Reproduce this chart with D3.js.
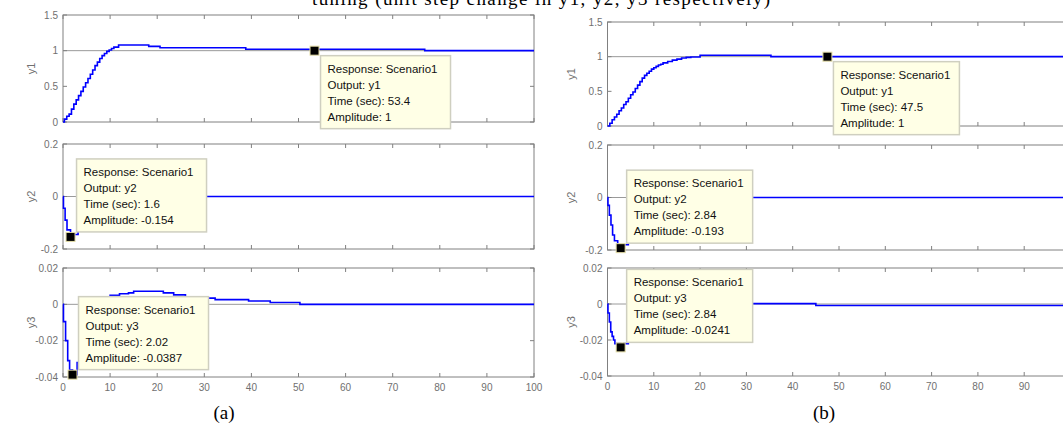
<!DOCTYPE html>
<html lang="en">
<head>
<meta charset="UTF-8">
<title>Step responses</title>
<script src="https://d3js.org/d3.v7.min.js"></script>
<style>
  body { margin: 0; background: #fff; }
  svg { display: block; }
  .tick-label { font-family: "Liberation Sans", Arial, sans-serif; font-size: 10px; fill: #707070; }
  .ylab { font-family: "Liberation Sans", Arial, sans-serif; font-size: 11px; fill: #707070; }
  .tip text { font-family: "Liberation Sans", Arial, sans-serif; font-size: 11.5px; fill: #111; }
  .caption { font-family: "Liberation Serif", "Times New Roman", serif; font-size: 19px; fill: #000; }
</style>
</head>
<body>
<svg id="canvas" width="1063" height="425"></svg>
<script>
// ---- data ----
const timeTicks = [0, 10, 20, 30, 40, 50, 60, 70, 80, 90, 100];
const y1Ticks = [0, 0.5, 1, 1.5];
const y2Ticks = [-0.2, 0, 0.2];
const y3Ticks = [-0.04, -0.02, 0, 0.02];

// (a)
const aY1Time = [0, 0.3, 0.8, 1.3, 1.8, 2.3, 2.8, 3.3, 3.8, 4.3, 4.8, 5.3, 5.8, 6.3, 6.8, 7.3, 7.8, 8.3, 8.8, 9.3, 9.8, 10.3, 10.8, 11.8, 18.2, 20.6, 38.8, 76.8, 100];
const aY1Amp  = [0, 0.04, 0.08, 0.11, 0.18, 0.25, 0.31, 0.37, 0.43, 0.49, 0.55, 0.61, 0.67, 0.73, 0.79, 0.84, 0.89, 0.93, 0.96, 0.99, 1.01, 1.03, 1.05, 1.08, 1.06, 1.04, 1.02, 1.0, 1.0];
const aY2Time = [0, 0.1, 0.45, 0.85, 1.6, 2.4, 3.2, 4, 5, 6, 7, 8, 10, 12, 100];
const aY2Amp  = [0, -0.045, -0.09, -0.127, -0.154, -0.145, -0.12, -0.09, -0.06, -0.035, -0.02, -0.01, -0.004, 0, 0];
const aY3Time = [0, 0.1, 0.55, 1.0, 1.4, 2.02, 3, 4, 5, 6, 7, 8, 9, 10, 12, 13.9, 15, 21.3, 23.5, 26, 30.2, 32.3, 39.4, 44, 50.3, 100];
const aY3Amp  = [0, -0.0095, -0.02, -0.031, -0.036, -0.0387, -0.032, -0.022, -0.013, -0.006, -0.001, 0.002, 0.004, 0.005, 0.0058, 0.0063, 0.0072, 0.0063, 0.0052, 0.0042, 0.0034, 0.0026, 0.0018, 0.001, 0, 0];

// (b)
const bY1Time = [0, 0.5, 1, 1.5, 2, 2.5, 3, 3.5, 4, 4.5, 5, 5.5, 6, 6.5, 7, 7.5, 8, 8.5, 9, 9.5, 10, 10.5, 11, 11.5, 12, 13, 14, 15, 16, 17, 18, 20, 35.3, 100];
const bY1Amp  = [0, 0.04, 0.09, 0.13, 0.17, 0.22, 0.26, 0.31, 0.35, 0.40, 0.45, 0.49, 0.54, 0.59, 0.64, 0.69, 0.73, 0.76, 0.79, 0.82, 0.84, 0.86, 0.88, 0.89, 0.91, 0.93, 0.95, 0.965, 0.98, 0.99, 0.995, 1.02, 1.0, 1.0];
const bY2Time = [0, 0.1, 0.4, 0.75, 1.1, 1.5, 2.2, 2.84, 3.5, 4.5, 5.5, 7, 9, 11, 14, 100];
const bY2Amp  = [0, -0.03, -0.067, -0.105, -0.143, -0.165, -0.185, -0.193, -0.18, -0.14, -0.1, -0.06, -0.03, -0.012, 0, 0];
const bY3Time = [0, 0.1, 0.4, 0.7, 1.0, 1.3, 1.6, 2.84, 3.5, 4.5, 6, 8, 10, 13, 17, 45, 100];
const bY3Amp  = [0, -0.005, -0.01, -0.0155, -0.018, -0.02, -0.022, -0.0241, -0.022, -0.017, -0.011, -0.006, -0.003, -0.001, 0.0002, -0.0008, -0.0008];

// data tips: [time, amplitude]
const aTips = [[53.4, 1], [1.6, -0.154], [2.02, -0.0387]];
const bTips = [[47.5, 1], [2.84, -0.193], [2.84, -0.0241]];
const outputs = ["y1", "y2", "y3"];
const steady = [1, 0, 0];

// ---- layout ----
const W = 1063;
const svg = d3.select("#canvas");
const columns = [
    { x: [63, 534], rows: [[15, 122], [144, 249], [268, 377]],
      series: [[aY1Time, aY1Amp], [aY2Time, aY2Amp], [aY3Time, aY3Amp]],
      tips: aTips, below: [true, false, false], tipW: 130, ylabX: 31, caption: "(a)", capX: 224 },
    { x: [607.5, 1070.5], rows: [[22, 126], [145, 250], [268, 376]],
      series: [[bY1Time, bY1Amp], [bY2Time, bY2Amp], [bY3Time, bY3Amp]],
      tips: bTips, below: [true, false, false], tipW: 126, ylabX: 571, caption: "(b)", capX: 824 }
];
const yDomains = [[0, 1.5], [-0.2, 0.2], [-0.04, 0.02]];
const yTickSets = [y1Ticks, y2Ticks, y3Ticks];

// cut-off title at the very top
svg.append("text")
    .attr("class", "caption")
    .attr("x", 312).attr("y", 5)
    .attr("textLength", 458)
    .text("tuning (unit step change in y1, y2, y3 respectively)");

const tipLayer = [];

columns.forEach(col => {
    const x = d3.scaleLinear().domain([0, 100]).range(col.x);
    col.rows.forEach((r, i) => {
        const y = d3.scaleLinear().domain(yDomains[i]).range([r[1], r[0]]);
        const g = svg.append("g");

        g.append("rect")
            .attr("x", col.x[0]).attr("y", r[0])
            .attr("width", col.x[1] - col.x[0]).attr("height", r[1] - r[0])
            .attr("fill", "#fff").attr("stroke", "#808080").attr("stroke-width", 1);

        // steady state reference line
        g.append("line")
            .attr("x1", col.x[0]).attr("x2", col.x[1])
            .attr("y1", y(steady[i])).attr("y2", y(steady[i]))
            .attr("stroke", "#9a9a9a").attr("stroke-width", 1);

        // inner ticks
        timeTicks.forEach(t => {
            g.append("line").attr("x1", x(t)).attr("x2", x(t)).attr("y1", r[0]).attr("y2", r[0] + 4)
                .attr("stroke", "#808080");
            g.append("line").attr("x1", x(t)).attr("x2", x(t)).attr("y1", r[1]).attr("y2", r[1] - 4)
                .attr("stroke", "#808080");
        });
        yTickSets[i].forEach(v => {
            g.append("line").attr("x1", col.x[0]).attr("x2", col.x[0] + 4).attr("y1", y(v)).attr("y2", y(v))
                .attr("stroke", "#808080");
            g.append("line").attr("x1", col.x[1]).attr("x2", col.x[1] - 4).attr("y1", y(v)).attr("y2", y(v))
                .attr("stroke", "#808080");
            g.append("text").attr("class", "tick-label")
                .attr("x", col.x[0] - 5).attr("y", y(v) + 3.5)
                .attr("text-anchor", "end")
                .text(String(v));
        });
        if (i === 2) {
            // labels that would fall off the page edge are not drawn
            timeTicks.filter(t => x(t) + 8 < W).forEach(t => {
                g.append("text").attr("class", "tick-label")
                    .attr("x", x(t)).attr("y", r[1] + 14)
                    .attr("text-anchor", "middle")
                    .text(t);
            });
        }

        // axis label
        const my = (r[0] + r[1]) / 2;
        g.append("text").attr("class", "ylab")
            .attr("transform", `translate(${col.ylabX + 4},${my}) rotate(-90)`)
            .attr("text-anchor", "middle")
            .text(outputs[i]);

        // response
        const [ts, vs] = col.series[i];
        const pts = ts.map((t, k) => [t, vs[k]]);
        const line = d3.line().x(d => x(d[0])).y(d => y(d[1])).curve(d3.curveStepAfter);
        g.append("path").attr("d", line(pts))
            .attr("fill", "none").attr("stroke", "#0000ff").attr("stroke-width", 1.6);

        // data tip
        const tip = col.tips[i];
        tipLayer.push({ mx: x(tip[0]), my: y(tip[1]), t: tip[0], a: tip[1],
                        out: outputs[i], below: col.below[i], w: col.tipW });
    });

    svg.append("text").attr("class", "caption")
        .attr("x", col.capX).attr("y", 419)
        .attr("text-anchor", "middle")
        .text(col.caption);
});

// data tips drawn last so they cover axes
const tipH = 73;
tipLayer.forEach(d => {
    const g = svg.append("g").attr("class", "tip");
    const bx = d.mx + 6;
    const by = d.below ? d.my + 5 : d.my - 5 - tipH;
    g.append("rect").attr("x", bx).attr("y", by).attr("width", d.w).attr("height", tipH)
        .attr("fill", "#ffffe6").attr("stroke", "#cfcfc0").attr("stroke-width", 1.5);
    const lines = ["Response: Scenario1", "Output: " + d.out, "Time (sec): " + d.t, "Amplitude: " + d.a];
    lines.forEach((s, k) => {
        g.append("text").attr("x", bx + 7).attr("y", by + 17 + k * 16).text(s);
    });
    g.append("rect").attr("x", d.mx - 4.5).attr("y", d.my - 4.5).attr("width", 9).attr("height", 9)
        .attr("fill", "#000").attr("stroke", "#e6dfa8").attr("stroke-width", 1);
});
</script>
</body>
</html>
